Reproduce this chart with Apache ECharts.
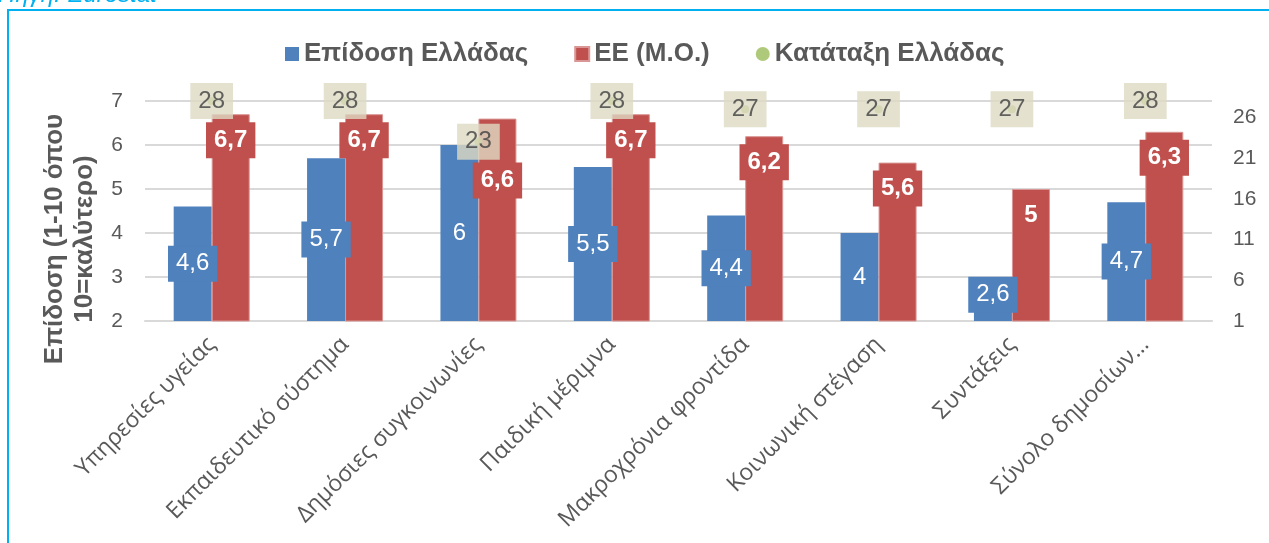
<!DOCTYPE html>
<html>
<head>
<meta charset="utf-8">
<script src="https://cdn.jsdelivr.net/npm/echarts@6/dist/echarts.min.js"></script>
<style>
html,body{margin:0;padding:0;background:#fff;}
#chart{width:1269px;height:543px;}
</style>
</head>
<body>
<div id="chart"></div>
<script>
const categories = ["Υπηρεσίες υγείας","Εκπαιδευτικό σύστημα","Δημόσιες συγκοινωνίες","Παιδική μέριμνα","Μακροχρόνια φροντίδα","Κοινωνική στέγαση","Συντάξεις","Σύνολο δημοσίων…"];
const greece = [4.6, 5.7, 6, 5.5, 4.4, 4, 2.6, 4.7];
const euAvg = [6.7, 6.7, 6.6, 6.7, 6.2, 5.6, 5, 6.3];
const rank = [28, 28, 23, 28, 27, 27, 27, 28];
const seriesNames = ["Επίδοση Ελλάδας", "ΕΕ (Μ.Ο.)", "Κατάταξη Ελλάδας"];
const leftTicks = {min: 2, max: 7, interval: 1};
const rightTicks = {min: 1, max: 28, interval: 5};

const fmt = p => String(p.value).replace('.', ',');
const font = '"Liberation Sans", Arial, sans-serif';

const greeceData = greece.map((v, i) => {
  const d = {value: v};
  if (v < 3) d.label = {offset: [0, -13]};
  return d;
});
const euData = euAvg.map((v, i) => {
  const d = {value: v};
  if (i === 2) d.label = {distance: 44};
  return d;
});

const chart = echarts.init(document.getElementById('chart'), null, {renderer: 'canvas'});
chart.setOption({
  animation: false,
  textStyle: {fontFamily: font},
  graphic: [
    {type: 'rect', shape: {x: 8, y: 10, width: 1400, height: 700}, style: {fill: 'none', stroke: '#00B0F0', lineWidth: 2}, z: 100},
    {type: 'text', left: -2, top: -17, style: {text: 'Πηγή: Eurostat', font: 'italic 24px "Liberation Sans", Arial', fill: '#00B0F0'}}
  ],
  legend: {
    left: 280, top: 36,
    itemWidth: 14, itemHeight: 14, itemGap: 46,
    textStyle: {fontSize: 26, fontWeight: 'bold', color: '#595959', fontFamily: font},
    data: [
      {name: seriesNames[0], icon: 'rect'},
      {name: seriesNames[1], icon: 'rect'},
      {name: seriesNames[2], icon: 'circle'}
    ]
  },
  grid: {left: 145, right: 57, top: 101, bottom: 222},
  xAxis: {
    type: 'category',
    data: categories,
    axisTick: {show: false},
    axisLine: {lineStyle: {color: '#D9D9D9', width: 2}},
    axisLabel: {rotate: 45, interval: 0, fontSize: 23, color: '#595959', fontFamily: '"Open Sans", sans-serif', margin: 20}
  },
  yAxis: [
    {
      type: 'value', min: leftTicks.min, max: leftTicks.max, interval: leftTicks.interval,
      name: 'Επίδοση (1-10 όπου\n10=καλύτερο)',
      nameLocation: 'middle', nameRotate: 90, nameGap: 45,
      nameTextStyle: {fontSize: 26, fontWeight: 'bold', color: '#595959', lineHeight: 30, fontFamily: font, padding: [0, 56, 0, 0]},
      axisLine: {show: false}, axisTick: {show: false},
      axisLabel: {fontSize: 21, color: '#595959', margin: 22},
      splitLine: {lineStyle: {color: '#D9D9D9', width: 2}}
    },
    {
      type: 'value', min: rightTicks.min, max: rightTicks.max, interval: rightTicks.interval,
      axisLine: {show: false}, axisTick: {show: false},
      axisLabel: {fontSize: 21, color: '#595959', margin: 21, showMaxLabel: false},
      splitLine: {show: false}
    }
  ],
  series: [
    {
      name: seriesNames[0], type: 'bar', data: greeceData,
      barWidth: 38, barGap: '0%',
      itemStyle: {color: '#4F81BD'},
      label: {show: true, position: 'inside', formatter: fmt, fontSize: 24, color: '#fff',
        backgroundColor: '#4F81BD', padding: [6, 8], lineHeight: 24}
    },
    {
      name: seriesNames[1], type: 'bar', data: euData,
      barWidth: 38,
      itemStyle: {color: '#C0504D', borderColor: '#D99694', borderWidth: 1},
      label: {show: true, position: 'insideTop', distance: 8, formatter: fmt, fontSize: 24, fontWeight: 'bold', color: '#fff',
        backgroundColor: '#C0504D', padding: [6, 8], lineHeight: 24}
    },
    {
      name: seriesNames[2], type: 'scatter', yAxisIndex: 1, data: rank,
      clip: false, symbolSize: 8, z: 5,
      itemStyle: {color: '#9BBB59'},
      label: {show: true, position: 'inside', fontSize: 24, color: '#404040',
        backgroundColor: '#DDD9C3', padding: [6, 8], lineHeight: 24}
    }
  ]
});
</script>
</body>
</html>
